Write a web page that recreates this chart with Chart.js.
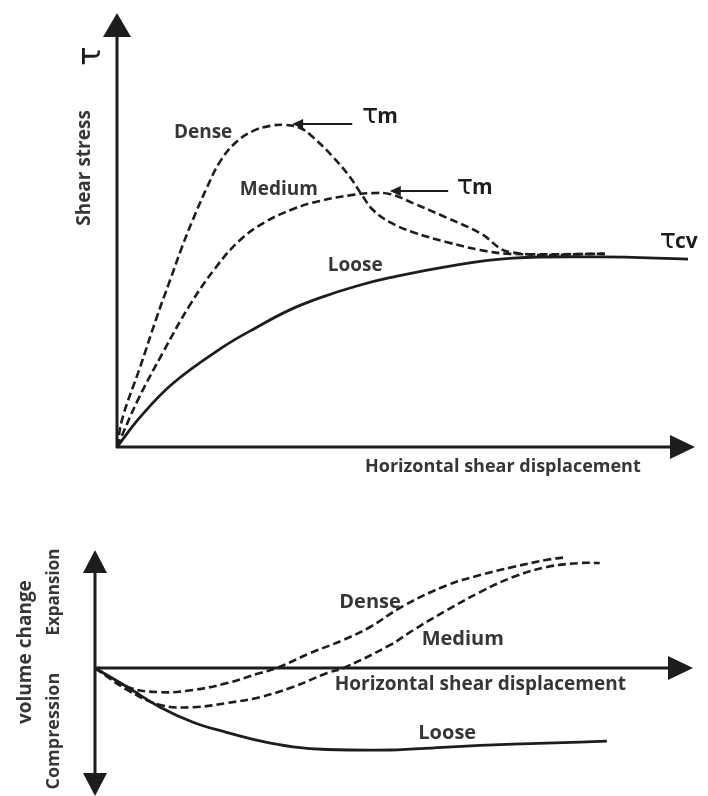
<!DOCTYPE html>
<html>
<head>
<meta charset="utf-8">
<script src="https://cdn.jsdelivr.net/npm/chart.js@4.4.1/dist/chart.umd.min.js"></script>
<style>
  body { margin: 0; background: #fff; width: 708px; height: 796px; overflow: hidden; position: relative; }
  canvas { position: absolute; left: 0; }
  #shear-chart { top: 0; }
  #volume-chart { top: 520px; }
</style>
</head>
<body>
<canvas id="shear-chart" width="708" height="500"></canvas>
<canvas id="volume-chart" width="708" height="276"></canvas>
<script>
// shear stress against horizontal displacement, [displacement, stress]
const shearDense = [[0, 0], [1.0, 6.9], [4.0, 18.4], [6.9, 30.0], [9.2, 38.5], [11.2, 45.9], [13.1, 52.3],
    [15.6, 59.9], [17.8, 65.7], [20.4, 70.0], [23.5, 72.8], [26.5, 74.0], [29.1, 74.2], [31.7, 73.5],
    [33.9, 71.4], [37.4, 66.8], [40.3, 62.2], [42.6, 57.6], [44.3, 54.6], [47.2, 51.8], [51.2, 49.5],
    [57.1, 47.2], [62.8, 45.4], [68.0, 44.5], [84.4, 44.5]];
const shearMedium = [[0, 0], [3.6, 10.8], [8.0, 21.9], [12.6, 32.7], [17.0, 41.2], [21.3, 47.7], [25.6, 51.8],
    [30.4, 54.8], [35.1, 56.7], [40.8, 58.1], [44.1, 58.5], [47.2, 58.3], [51.2, 56.2], [57.1, 52.8],
    [62.8, 49.3], [68.0, 44.9], [84.4, 44.5]];
const shearLoose = [[0, 0], [4.0, 6.9], [9.7, 14.7], [18.3, 23.0], [24.2, 27.6], [29.9, 31.6], [35.6, 34.6],
    [41.5, 37.1], [47.2, 39.0], [57.6, 41.7], [68.5, 43.5], [83.6, 43.8], [98.8, 43.3]];

// volume change against horizontal displacement, [displacement, change]
const volDense = [[0, 0], [5.4, -7.7], [10.9, -9.8], [16.4, -8.9], [22.1, -6.1], [27.6, -2.0], [30.4, 0],
    [36.0, 6.1], [41.5, 11.4], [46.0, 16.7], [51.5, 25.2], [58.9, 33.7], [64.4, 37.8], [69.9, 41.1], [75.6, 44.0], [78.9, 45.1]];
const volMedium = [[0, 0], [5.4, -8.9], [10.9, -15.0], [16.4, -15.9], [22.1, -14.2], [27.6, -11.8], [33.1, -7.7],
    [38.8, -2.0], [41.5, 0], [49.3, 9.3], [53.2, 15.4], [58.9, 23.6], [64.4, 30.9], [69.9, 37.0], [75.6, 41.1], [81.1, 42.7], [84.4, 42.7]];
const volLoose = [[0, 0], [5.4, -7.7], [10.9, -15.9], [16.4, -22.0], [22.1, -26.2], [27.6, -29.6], [33.1, -32.0],
    [38.8, -33.1], [49.3, -33.3], [58.9, -32.1], [69.9, -30.9], [81.1, -30.1], [85.6, -29.7]];

const INK = '#1d1d1d';
const TEXT = '#363636';
const LABEL_FONT = "'Open Sans', 'DejaVu Sans', sans-serif";

function toPoints(pairs) {
    return pairs.map(p => ({ x: p[0], y: p[1] }));
}

function curve(pairs, dashed) {
    return {
        data: toPoints(pairs),
        borderColor: INK,
        borderWidth: dashed ? 2.6 : 2.8,
        borderDash: dashed ? [8, 4] : [],
        pointRadius: 0,
        fill: false,
        tension: 0.4
    };
}

function arrowHead(ctx, x, y, dir, len, half) {
    ctx.beginPath();
    if (dir === 'up') {
        ctx.moveTo(x, y); ctx.lineTo(x - half, y + len); ctx.lineTo(x + half, y + len);
    } else if (dir === 'down') {
        ctx.moveTo(x, y); ctx.lineTo(x - half, y - len); ctx.lineTo(x + half, y - len);
    } else if (dir === 'right') {
        ctx.moveTo(x, y); ctx.lineTo(x - len, y - half); ctx.lineTo(x - len, y + half);
    } else {
        ctx.moveTo(x, y); ctx.lineTo(x + len, y - half); ctx.lineTo(x + len, y + half);
    }
    ctx.closePath();
    ctx.fill();
}

function text(ctx, str, x, y, size, align, rotate) {
    ctx.save();
    ctx.font = 'bold ' + size + 'px ' + LABEL_FONT;
    ctx.fillStyle = TEXT;
    ctx.textAlign = align || 'center';
    ctx.textBaseline = 'middle';
    ctx.translate(x, y);
    if (rotate) ctx.rotate(-Math.PI / 2);
    ctx.fillText(str, 0, 0);
    ctx.restore();
}

// tau with a trailing subscript, left aligned on a baseline
function tau(ctx, sub, x, y, tauSize, subSize) {
    ctx.save();
    ctx.fillStyle = INK;
    ctx.textBaseline = 'alphabetic';
    ctx.textAlign = 'left';
    ctx.font = tauSize + "px 'DejaVu Sans', sans-serif";
    ctx.fillText('τ', x, y);
    const w = ctx.measureText('τ').width;
    ctx.font = 'bold ' + subSize + 'px ' + LABEL_FONT;
    ctx.fillText(sub, x + w - 1, y);
    ctx.restore();
}

function pointer(ctx, x1, x2, y) {
    ctx.save();
    ctx.strokeStyle = INK;
    ctx.fillStyle = INK;
    ctx.lineWidth = 2;
    ctx.beginPath();
    ctx.moveTo(x1, y);
    ctx.lineTo(x2 + 6, y);
    ctx.stroke();
    arrowHead(ctx, x2, y, 'left', 11, 5);
    ctx.restore();
}

const shearAxes = {
    id: 'shearAxes',
    afterDatasetsDraw(chart) {
        const { ctx, chartArea, scales } = chart;
        const ox = scales.x.getPixelForValue(0);
        const oy = scales.y.getPixelForValue(0);
        ctx.save();
        ctx.strokeStyle = INK;
        ctx.fillStyle = INK;
        ctx.lineWidth = 3;
        ctx.beginPath();
        ctx.moveTo(ox, oy + 1);
        ctx.lineTo(ox, chartArea.top + 20);
        ctx.moveTo(ox - 1, oy);
        ctx.lineTo(chartArea.right - 20, oy);
        ctx.stroke();
        arrowHead(ctx, ox, chartArea.top, 'up', 24, 14);
        arrowHead(ctx, chartArea.right, oy, 'right', 25, 12);
        ctx.restore();

        const px = v => scales.x.getPixelForValue(v);
        const py = v => scales.y.getPixelForValue(v);

        text(ctx, 'Horizontal shear displacement', px(42.9), oy + 20, 18, 'left');
        text(ctx, 'Shear stress', ox - 32, chartArea.top + 155, 19, 'center', true);
        ctx.save();
        ctx.translate(ox - 25, chartArea.top + 43);
        ctx.rotate(-Math.PI / 2);
        ctx.font = "32px 'DejaVu Sans', sans-serif";
        ctx.fillStyle = INK;
        ctx.textAlign = 'center';
        ctx.textBaseline = 'middle';
        ctx.fillText('τ', 0, 0);
        ctx.restore();

        text(ctx, 'Dense', px(14.9), py(72.4), 19);
        text(ctx, 'Medium', px(28.0), py(59.2), 19);
        text(ctx, 'Loose', px(41.2), py(41.9), 19);

        pointer(ctx, px(40.7), px(30.3), py(74.4));
        tau(ctx, 'm', px(42.4), py(74.7), 27, 21);
        pointer(ctx, px(57.3), px(47.2), py(59.0));
        tau(ctx, 'm', px(58.8), py(58.3), 27, 21);
        tau(ctx, 'cv', px(93.9), py(45.9), 27, 21);
    }
};

const volumeAxes = {
    id: 'volumeAxes',
    afterDatasetsDraw(chart) {
        const { ctx, chartArea, scales } = chart;
        const ox = scales.x.getPixelForValue(0);
        const oy = scales.y.getPixelForValue(0);
        ctx.save();
        ctx.strokeStyle = INK;
        ctx.fillStyle = INK;
        ctx.lineWidth = 3;
        ctx.beginPath();
        ctx.moveTo(ox, chartArea.top + 20);
        ctx.lineTo(ox, chartArea.bottom - 20);
        ctx.moveTo(ox, oy);
        ctx.lineTo(chartArea.right - 20, oy);
        ctx.stroke();
        arrowHead(ctx, ox, chartArea.top, 'up', 23, 12);
        arrowHead(ctx, ox, chartArea.bottom, 'down', 23, 12);
        arrowHead(ctx, chartArea.right, oy, 'right', 25, 12);
        ctx.restore();

        const px = v => scales.x.getPixelForValue(v);
        const py = v => scales.y.getPixelForValue(v);

        text(ctx, 'volume change', ox - 69, oy - 16, 19, 'center', true);
        text(ctx, 'Expansion', ox - 41, oy - 76, 17, 'center', true);
        text(ctx, 'Compression', ox - 41, oy + 63, 18, 'center', true);

        text(ctx, 'Dense', px(46.0), py(26.8), 20);
        text(ctx, 'Medium', px(61.5), py(11.8), 20);
        text(ctx, 'Horizontal shear displacement', px(40.1), py(-6.9), 19, 'left');
        text(ctx, 'Loose', px(58.9), py(-26.4), 20);
    }
};

function baseOptions(padding, yMin, yMax) {
    return {
        responsive: false,
        animation: false,
        layout: { padding: padding },
        plugins: { legend: { display: false }, tooltip: { enabled: false } },
        scales: {
            x: { type: 'linear', min: 0, max: 100, display: false },
            y: { type: 'linear', min: yMin, max: yMax, display: false }
        }
    };
}

new Chart(document.getElementById('shear-chart').getContext('2d'), {
    type: 'line',
    data: {
        datasets: [curve(shearDense, true), curve(shearMedium, true), curve(shearLoose, false)]
    },
    options: baseOptions({ left: 117, right: 13, top: 13, bottom: 53 }, 0, 100),
    plugins: [shearAxes]
});

new Chart(document.getElementById('volume-chart').getContext('2d'), {
    type: 'line',
    data: {
        datasets: [curve(volDense, true), curve(volMedium, true), curve(volLoose, false)]
    },
    options: baseOptions({ left: 95, right: 15, top: 30, bottom: 0 }, -52, 48),
    plugins: [volumeAxes]
});
</script>
</body>
</html>
